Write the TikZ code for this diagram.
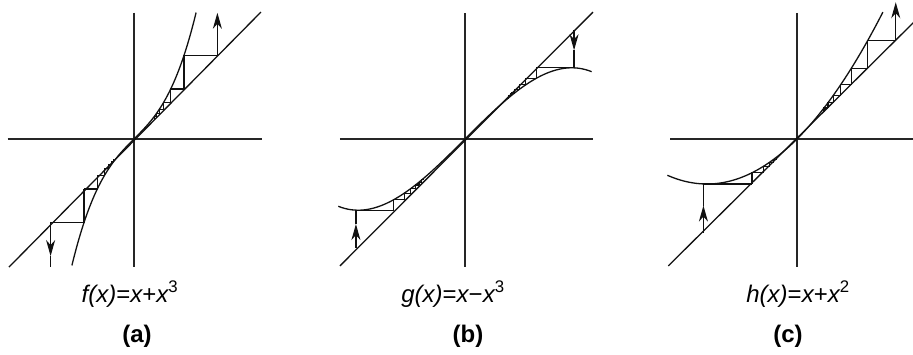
\documentclass[tikz,border=0pt]{standalone}
\usepackage{fontspec}
\setsansfont{Liberation Sans}
\usetikzlibrary{arrows.meta}
\definecolor{AxisGray}{HTML}{262626}
\definecolor{InkBlack}{HTML}{111111}
\tikzset{
  axisline/.style={line width=1.7pt,draw=AxisGray},
  curveline/.style={line width=1.3pt,draw=InkBlack,smooth,samples=80},
  webline/.style={line width=1.2pt,draw=InkBlack},
  arrowtip/.style={-{Stealth[length=16pt,width=9pt,inset=5pt]}},
  formula/.style={font=\sffamily\fontsize{24}{28}\selectfont,anchor=base},
  panellabel/.style={font=\sffamily\bfseries\fontsize{24}{28}\selectfont},
}

\begin{document}
\begin{tikzpicture}[x=1pt,y=1pt]
  \useasboundingbox (0,0) rectangle (913,354);

  % (a) f(x) = x + x^3
  \begin{scope}[shift={(134,215)},scale=61]
    \draw[axisline] (-2.07,0) -- (2.1,0);
    \draw[axisline] (0,2.07) -- (0,-2.1);
    \draw[curveline] (-2.05,-2.1) -- (2.08,2.08);
    \draw[curveline,domain=-1.018:1.018] plot (\x,{(\x)+(\x)*(\x)*(\x)});
    \foreach \a/\b in {0.33/0.3659,0.3659/0.4149,0.4149/0.4863,0.4863/0.6013,0.6013/0.8187,0.8187/1.3675}{
      \draw[webline] (\a,\a) |- (\b,\b);
      \draw[webline] (-\a,-\a) |- (-\b,-\b);
    }
    \coordinate (fup) at (1.3675,1.3675);
    \coordinate (fuptip) at (1.3675,2.07);
    \coordinate (flo) at (-1.3675,-1.3675);
    \coordinate (flotip) at (-1.3675,-1.92);
    \coordinate (floend) at (-1.3675,-2.1);
    \draw[webline,arrowtip] (fup) -- (fuptip);
    \draw[webline,arrowtip] (flo) -- (flotip);
    \draw[webline] (flotip) -- (floend);
  \end{scope}

  % (b) g(x) = x - x^3
  \begin{scope}[shift={(465,215)},scale=185]
    \draw[axisline] (-0.676,0) -- (0.692,0);
    \draw[axisline] (0,0.681) -- (0,-0.692);
    \draw[curveline] (-0.676,-0.686) -- (0.692,0.686);
    \draw[curveline,domain=-0.685:0.685] plot (\x,{(\x)-(\x)*(\x)*(\x)});
    \foreach \a/\b in {0.3846/0.3277,0.3277/0.2925,0.2925/0.2675,0.2675/0.2484,0.2484/0.2331,0.2331/0.2204}{
      \draw[webline] (\a,\a) |- (\b,\b);
      \draw[webline] (-\a,-\a) |- (-\b,-\b);
    }
    \coordinate (gup) at (0.59,0.59);
    \coordinate (gupmid) at (0.59,0.48);
    \coordinate (gupend) at (0.59,0.3846);
    \coordinate (gupdiag) at (0.3846,0.3846);
    \coordinate (glo) at (-0.59,-0.59);
    \coordinate (glomid) at (-0.59,-0.46);
    \coordinate (gloend) at (-0.59,-0.3846);
    \coordinate (glodiag) at (-0.3846,-0.3846);
    \draw[webline,arrowtip] (gup) -- (gupmid);
    \draw[webline] (gupmid) -- (gupend) -- (gupdiag);
    \draw[webline,arrowtip] (glo) -- (glomid);
    \draw[webline] (glomid) -- (gloend) -- (glodiag);
  \end{scope}

  % (c) h(x) = x + x^2
  \begin{scope}[shift={(797,215)},scale=180]
    \draw[axisline] (-0.705,0) -- (0.65,0);
    \draw[axisline] (0,0.70) -- (0,-0.711);
    \draw[curveline] (-0.715,-0.705) -- (0.65,0.65);
    \draw[curveline,domain=-0.72:0.478] plot (\x,{(\x)+(\x)*(\x)});
    \foreach \a/\b in {0.15/0.1725,0.1725/0.2023,0.2023/0.2432,0.2432/0.3023,0.3023/0.3937,0.3937/0.5487}{
      \draw[webline] (\a,\a) |- (\b,\b);
    }
    \foreach \a/\b in {-0.2496/-0.1873,-0.1873/-0.1522,-0.1522/-0.1290,-0.1290/-0.1124}{
      \draw[webline] (\a,\a) |- (\b,\b);
    }
    \coordinate (hup) at (0.5487,0.5487);
    \coordinate (huptip) at (0.5487,0.76);
    \coordinate (hlo) at (-0.52,-0.52);
    \coordinate (hlomid) at (-0.52,-0.37);
    \coordinate (hloend) at (-0.52,-0.2496);
    \coordinate (hlodiag) at (-0.2496,-0.2496);
    \draw[webline,arrowtip] (hup) -- (huptip);
    \draw[webline,arrowtip] (hlo) -- (hlomid);
    \draw[webline] (hlomid) -- (hloend) -- (hlodiag);
  \end{scope}

  % captions
  \node[formula] (capA) at (130,52) {\itshape f(x)\upshape=\itshape x\upshape+\itshape x\upshape\textsuperscript{3}};
  \node[formula] (capB) at (453,52) {\itshape g(x)\upshape=\itshape x\upshape−\itshape x\upshape\textsuperscript{3}};
  \node[formula] (capC) at (798,52) {\itshape h(x)\upshape=\itshape x\upshape+\itshape x\upshape\textsuperscript{2}};
  \node[panellabel] (labA) at (137,18) {(a)};
  \node[panellabel] (labB) at (468,18) {(b)};
  \node[panellabel] (labC) at (788,18) {(c)};
\end{tikzpicture}
\end{document}
